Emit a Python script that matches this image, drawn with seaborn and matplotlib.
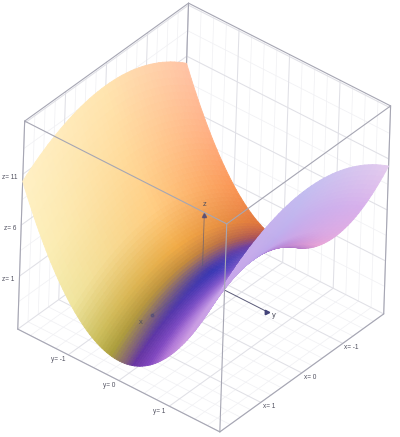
import numpy as np
import matplotlib
matplotlib.use("Agg")
import matplotlib.pyplot as plt
from matplotlib.colors import LinearSegmentedColormap
from mpl_toolkits.mplot3d import proj3d
import seaborn as sns

# surface samples (additive profiles along each axis)
x_values = [-2.0,-1.9,-1.8,-1.7,-1.6,-1.5,-1.4,-1.3,-1.2,-1.1,-1.0,-0.9,-0.8,-0.7,-0.6,-0.5,-0.4,-0.3,-0.2,-0.1,0.0,
            0.1,0.2,0.3,0.4,0.5,0.6,0.7,0.8,0.9,1.0,1.1,1.2,1.3,1.4,1.5,1.6,1.7,1.8,1.9,2.0]
z_along_x = [-3.60,-3.25,-2.92,-2.60,-2.30,-2.03,-1.76,-1.52,-1.30,-1.09,-0.90,-0.73,-0.58,-0.44,-0.32,-0.23,-0.14,-0.08,-0.04,-0.01,0.00,
             -0.01,-0.04,-0.08,-0.14,-0.23,-0.32,-0.44,-0.58,-0.73,-0.90,-1.09,-1.30,-1.52,-1.76,-2.03,-2.30,-2.60,-2.92,-3.25,-3.60]
y_values = [-2.0,-1.95,-1.9,-1.85,-1.8,-1.75,-1.7,-1.65,-1.6,-1.55,-1.5,-1.45,-1.4,-1.35,-1.3,-1.25,-1.2,-1.15,-1.1,-1.05,
            -1.0,-0.95,-0.9,-0.85,-0.8,-0.75,-0.7,-0.65,-0.6,-0.55,-0.5,-0.45,-0.4,-0.35,-0.3,-0.25,-0.2,-0.15,-0.1,-0.05,
            0.0,0.05,0.1,0.15,0.2,0.25,0.3,0.35,0.4,0.45,0.5,0.55,0.6,0.65,0.7,0.75,0.8,0.85,0.9,0.95,
            1.0,1.05,1.1,1.15,1.2,1.25,1.3,1.35,1.4,1.45,1.5,1.55,1.6,1.65,1.7,1.75,1.8,1.85,1.9,1.95,2.0]
z_along_y = [12.60,11.98,11.37,10.78,10.21,9.65,9.10,8.58,8.06,7.57,7.09,6.62,6.17,5.74,5.32,4.92,4.54,4.17,3.81,3.47,
             3.15,2.84,2.55,2.28,2.02,1.77,1.54,1.33,1.13,0.95,0.79,0.64,0.50,0.39,0.28,0.20,0.13,0.07,0.03,0.01,
             0.00,0.01,0.03,0.07,0.13,0.20,0.28,0.39,0.50,0.64,0.79,0.95,1.13,1.33,1.54,1.77,2.02,2.28,2.55,2.84,
             3.15,3.47,3.81,4.17,4.54,4.92,5.32,5.74,6.17,6.62,7.09,7.57,8.06,8.58,9.10,9.65,10.21,10.78,11.37,11.98,12.60]
z_at_origin = 1.3

box_x = (-2, 2)
box_y = (-2, 2)
box_z = (-4.2, 16.2)
major_xy = [-2, -1, 0, 1, 2]
minor_xy = [-1.75,-1.5,-1.25,-0.75,-0.5,-0.25,0.25,0.5,0.75,1.25,1.5,1.75]
major_z = [1, 6, 11, 16]
minor_z = [-1.5, 3.5, 8.5, 13.5]
x_ticks = [-1, 0, 1]
y_ticks = [-1, 0, 1]
z_ticks = [1, 6, 11]

# colour stops along y, at three positions along x
stops_front = [(-2,'#fff0c4'),(-1.5,'#fbeeb6'),(-1,'#efe6a0'),(-.5,'#c9bf5e'),(-.2,'#aaa03c'),(.05,'#8a6a70'),
               (.25,'#6a35a0'),(.55,'#8246be'),(.85,'#b478d7'),(1.2,'#cd9be1'),(2,'#c8a5eb')]
stops_mid = [(-2,'#ffe4af'),(-1,'#ffcd82'),(-.5,'#f0aa46'),(-.25,'#c88a3c'),(-.05,'#7a5a80'),(.1,'#4a3ca8'),(.22,'#3737b4'),
             (.45,'#5f48c3'),(.7,'#8c64d2'),(1.1,'#bea5eb'),(2,'#c3bef0')]
stops_back = [(-2,'#ffc3a5'),(-1.5,'#ffaf82'),(-1,'#fa9655'),(-.5,'#e1783c'),(-.15,'#aa465a'),(.05,'#823caa'),
              (.3,'#b478c8'),(.7,'#e8a5d7'),(1,'#e1aae1'),(1.5,'#d7afeb'),(2,'#e4cdee')]

sns.set_theme(style="white")
plt.rcParams['font.family'] = ['Liberation Sans', 'DejaVu Sans']


def make_cmap(stops):
    return LinearSegmentedColormap.from_list(
        "s", [((v + 2) / 4, c) for v, c in stops], N=512)


fig = plt.figure(figsize=(4.0, 4.37), dpi=100)
ax = fig.add_axes([-42.3 / 400, -27 / 437, 480 / 400, 480 / 437], projection='3d', computed_zorder=False)
ax.set_proj_type('ortho')
ax.set_box_aspect((1, 1, 1), zoom=0.9117)
ax.view_init(elev=36.9, azim=37.9, roll=-1.9)
ax.set_xlim(*box_x)
ax.set_ylim(*box_y)
ax.set_zlim(*box_z)
ax.set_xticks([])
ax.set_yticks([])
ax.set_zticks([])
ax.set_axis_off()

X, Y = np.meshgrid(np.array(x_values), np.array(y_values), indexing='ij')
Z = z_at_origin + np.add.outer(np.array(z_along_x), np.array(z_along_y))

t = (Y + 2) / 4
front, mid, back = make_cmap(stops_front)(t), make_cmap(stops_mid)(t), make_cmap(stops_back)(t)
w = (X / 2)[..., None]
colors = np.where(w >= 0, mid * (1 - w) + front * w, mid * (1 + w) - back * w)

GRID_MAJOR, GRID_MINOR, EDGE, TXT = '#e0e0e6', '#f1f1f4', '#a6a6b3', '#50505f'
x0, x1 = box_x
y0, y1 = box_y
z0, z1 = box_z


def grid(values_xy, values_z, col, lw):
    for v in values_xy:
        ax.plot([v, v], [y0, y0], [z0, z1], color=col, lw=lw, zorder=1)
        ax.plot([x0, x0], [v, v], [z0, z1], color=col, lw=lw, zorder=1)
        ax.plot([v, v], [y0, y1], [z0, z0], color=col, lw=lw, zorder=1)
        ax.plot([x0, x1], [v, v], [z0, z0], color=col, lw=lw, zorder=1)
    for v in values_z:
        ax.plot([x0, x1], [y0, y0], [v, v], color=col, lw=lw, zorder=1)
        ax.plot([x0, x0], [y0, y1], [v, v], color=col, lw=lw, zorder=1)


grid(minor_xy, minor_z, GRID_MINOR, 0.55)
grid(major_xy, major_z, GRID_MAJOR, 0.75)

# hidden box edges
for xs, ys, zs in [([x0, x0], [y0, y0], [z0, z1]), ([x1, x1], [y0, y0], [z0, z1]), ([x0, x0], [y1, y1], [z0, z1]),
                   ([x1, x1], [y0, y1], [z0, z0]), ([x0, x1], [y1, y1], [z0, z0]),
                   ([x0, x1], [y0, y0], [z1, z1]), ([x0, x0], [y0, y1], [z1, z1])]:
    ax.plot(xs, ys, zs, color=EDGE, lw=0.8, zorder=1.5)

AX_COL = '#5a5a78'
HEAD = '#44447a'
# y axis passes behind the surface
ax.plot([0, 0], [0, 1.28], [0, 0], color=AX_COL, lw=0.7, zorder=1.6)
ax.plot([0], [1.28], [0], marker='>', ms=3.2, color=HEAD, zorder=1.6)

ax.plot_surface(X, Y, Z, facecolors=colors, rstride=1, cstride=1, shade=False,
                linewidth=0.6, antialiased=True, zorder=2)

ax.plot([0, 0], [0, 0], [1.3, 6.2], color=AX_COL, lw=0.6, alpha=0.7, zorder=3)
ax.plot([0], [0], [6.2], marker='^', ms=3.0, color=HEAD, alpha=0.7, zorder=3)
ax.plot([0.65, 1.22], [0, 0], [0, 0], color=AX_COL, lw=0.5, alpha=0.4, zorder=3)
ax.plot([1.22], [0], [0], marker='o', ms=2.0, color=HEAD, alpha=0.45, zorder=3)

# box edges in front of the surface
for xs, ys, zs in [([x1, x1], [y1, y1], [z0, z1]), ([x1, x1], [y0, y1], [z1, z1]), ([x0, x1], [y1, y1], [z1, z1])]:
    ax.plot(xs, ys, zs, color=EDGE, lw=0.8, zorder=4)

M = ax.get_proj()


def label(px, py, pz, s, size, ha='center'):
    u, v, _ = proj3d.proj_transform(px, py, pz, M)
    ax.text2D(u, v, s, fontsize=size, color=TXT, ha=ha, va='center', zorder=5)


fs = 4.7
for v in y_ticks:
    label(2.2, v - 0.03, z0, f"y= {v}", fs)
for v in x_ticks:
    label(v, 2.17, z0, f"x= {v}", fs)
for v in z_ticks:
    label(2, -2.1, v - 0.55, f"z= {v}", fs, ha='right')
label(1.5, 0, 0, "x", 5.5)
label(0, 1.43, 0, "y", 5.5)
label(0, 0, 7.3, "z", 5.5)

fig.savefig("out.png", dpi=100, facecolor='white')
